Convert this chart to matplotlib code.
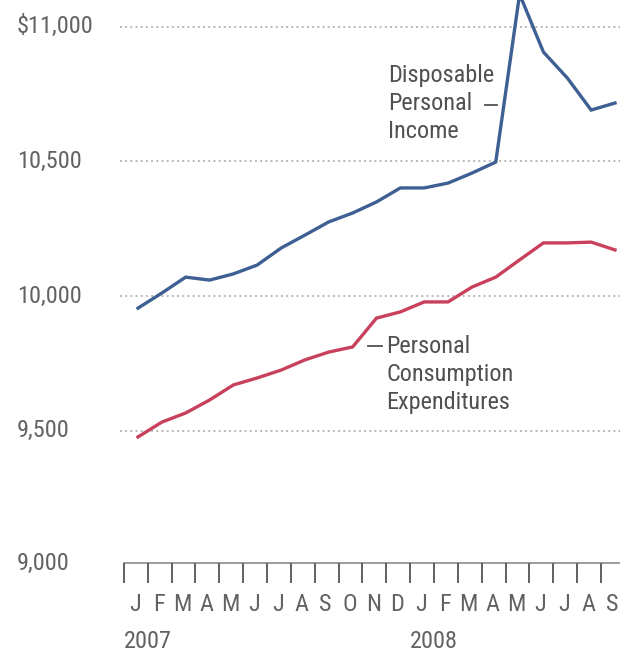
import matplotlib
matplotlib.use("Agg")
import matplotlib.pyplot as plt
import numpy as np

plt.rcParams["font.family"] = ["Roboto Condensed", "DejaVu Sans"]

# monthly values, Jan 2007 - Sep 2008 (billions of dollars, annual rate)
months = ["J", "F", "M", "A", "M", "J", "J", "A", "S", "O", "N", "D",
          "J", "F", "M", "A", "M", "J", "J", "A", "S"]
years = ["2007", "2008"]
income = [9955, 10011, 10070, 10059, 10082, 10115, 10178, 10226, 10275, 10308,
          10349, 10401, 10401, 10419, 10456, 10497, 11120, 10905, 10809, 10690, 10716]
spending = [9477, 9532, 9566, 9614, 9670, 9696, 9725, 9763, 9792, 9811,
            9918, 9941, 9978, 9978, 10033, 10070, 10134, 10197, 10197, 10200, 10171]
yticks = [9000, 9500, 10000, 10500, 11000]
ytick_labels = ["9,000", "9,500", "10,000", "10,500", "$11,000"]

W, H = 620, 656
fig = plt.figure(figsize=(W / 100, H / 100), dpi=100)
ax = fig.add_axes([0, 0, 1, 1])
ax.axis("off")

# pixel geometry of the reference
x0, dx = 138, 23.85        # Jan 2007 position, px per month
y_ref, y_scale = 296, 0.2695   # 10,000 line, px per dollar


def px(p):
    return (p - x0) / dx


def py(p):
    return 10000 - (p - y_ref) / y_scale


ax.set_xlim(px(0), px(W))
ax.set_ylim(py(H), py(0))

x = np.arange(len(months))
grey = "#626262"
fs = 17.5

# dotted gridlines
for v in yticks[1:]:
    ax.plot([px(120), px(W)], [v, v], color="#a0a0a0", lw=1.1,
            linestyle=(0, (1.2, 2.2)), zorder=1)

for v, lab in zip(yticks, ytick_labels):
    yy = v if v != 9000 else py(563)
    ax.text(px(17), yy, lab, ha="left", va="center", fontsize=fs, color=grey)

# x axis with month ticks
base = py(563)
tick_x = x - 0.59
ax.plot([tick_x[0], px(W)], [base, base], color="#8a8a8a", lw=1.2, zorder=2)
ax.vlines(tick_x, py(583), base, color="#606060", lw=1.4)
for xi, m in zip(x, months):
    ax.text(xi - 0.13, py(604), m, ha="center", va="center", fontsize=fs, color=grey)
ax.text(tick_x[0], py(641), years[0], ha="left", va="center", fontsize=fs, color=grey)
ax.text(tick_x[12], py(641), years[1], ha="left", va="center", fontsize=fs, color=grey)

# series
ax.plot(x, income, color="#3e5f93", lw=2.4, solid_joinstyle="miter", zorder=3)
ax.plot(x, spending, color="#c9405c", lw=2.4, solid_joinstyle="miter", zorder=3)

# labels
txt = "#505050"
for line, yp in zip(["Disposable", "Personal", "Income"], [75, 103, 131]):
    ax.text(px(388), py(yp), line, ha="left", va="center", fontsize=fs, color=txt)
ax.plot([px(485), px(497)], [py(105), py(105)], color=txt, lw=1.3)

ax.plot([px(368), px(382)], [py(346), py(346)], color=txt, lw=1.3)
for line, yp in zip(["Personal", "Consumption", "Expenditures"], [346, 374, 402]):
    ax.text(px(386), py(yp), line, ha="left", va="center", fontsize=fs, color=txt)

fig.savefig("out.png", dpi=100, facecolor="white")
